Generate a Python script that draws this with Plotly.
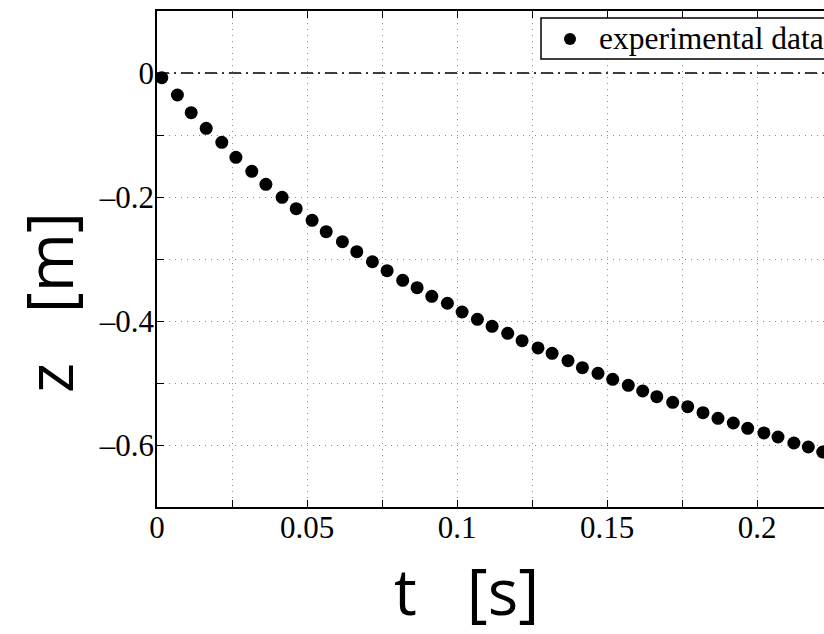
import plotly.graph_objects as go

# Free-fall position record: time [s] and vertical position [m]
t_s = [0.0016, 0.0068, 0.0114, 0.0164, 0.0216, 0.0263, 0.0316, 0.0363, 0.0417, 0.0464,
       0.0517, 0.0564, 0.0618, 0.0666, 0.0718, 0.0767, 0.0819, 0.0867, 0.0916, 0.0968,
       0.1017, 0.1068, 0.1117, 0.1169, 0.1217, 0.1270, 0.1317, 0.1370, 0.1418, 0.1470,
       0.1519, 0.1571, 0.1619, 0.1666, 0.1719, 0.1769, 0.1820, 0.1870, 0.1921, 0.1969,
       0.2023, 0.2070, 0.2123, 0.2171, 0.2219]
z_m = [-0.0076, -0.0355, -0.0640, -0.0892, -0.1118, -0.1360, -0.1586, -0.1796, -0.2005, -0.2189,
       -0.2376, -0.2560, -0.2721, -0.2882, -0.3044, -0.3189, -0.3344, -0.3463, -0.3602, -0.3714,
       -0.3855, -0.3973, -0.4086, -0.4199, -0.4317, -0.4435, -0.4521, -0.4640, -0.4753, -0.4844,
       -0.4940, -0.5037, -0.5129, -0.5221, -0.5312, -0.5382, -0.5479, -0.5569, -0.5645, -0.5731,
       -0.5806, -0.5871, -0.5968, -0.6032, -0.6113]

series_name = "experimental data"

x_ticks = [0, 0.025, 0.05, 0.075, 0.1, 0.125, 0.15, 0.175, 0.2]
x_tick_text = ["0", "", "0.05", "", "0.1", "", "0.15", "", "0.2"]
y_ticks = [0.1, 0, -0.1, -0.2, -0.3, -0.4, -0.5, -0.6, -0.7]
y_tick_text = ["", "0", "", "–0.2", "", "–0.4", "", "–0.6", ""]

W, H = 824, 634
L, R, T, B = 157, 0, 11, 127
pw, ph = W - L - R, H - T - B

def px_to_paper(px, py):
    return (px - L) / pw, (H - B - py) / ph

fig = go.Figure()
fig.add_trace(go.Scatter(
    x=t_s, y=z_m, mode="markers", name=series_name, showlegend=False,
    marker=dict(color="black", size=13, line=dict(width=0)),
))

# reference level z = 0
fig.add_shape(type="line", xref="paper", yref="y", x0=0, x1=1, y0=0, y1=0,
              line=dict(color="black", width=1.5, dash="12px,5px,2px,5px"), layer="above")

serif = "Liberation Serif"
sans = "Open Sans"
axis_common = dict(
    showgrid=True, gridcolor="rgb(140,140,140)", griddash="1px,5px", gridwidth=1,
    zeroline=False, showline=True, linecolor="black", linewidth=1.5,
    ticks="inside", ticklen=7, tickcolor="black", tickwidth=1,
    tickfont=dict(family=serif, size=31, color="black"),
    tickmode="array",
)

fig.update_xaxes(range=[0, pw / 3000.0], tickvals=x_ticks, ticktext=x_tick_text,
                 mirror="ticks", ticklabelstandoff=-8, **axis_common)
fig.update_yaxes(range=[-0.7, 0.1], tickvals=y_ticks, ticktext=y_tick_text,
                 mirror=False, ticklabelstandoff=-5, **axis_common)

# legend box (framed key in the upper right corner)
bx0, by0 = px_to_paper(541, 18)
bx1, by1 = px_to_paper(870, 59)
fig.add_shape(type="rect", xref="paper", yref="paper", x0=bx0, x1=bx1, y0=by1, y1=by0,
              line=dict(color="black", width=1.5), fillcolor="white", layer="above")
mx, my = px_to_paper(570, 39)
fig.add_shape(type="circle", xref="paper", yref="paper", xsizemode="pixel", ysizemode="pixel",
              xanchor=mx, yanchor=my, x0=-6, x1=6, y0=-6, y1=6,
              line=dict(width=0), fillcolor="black", layer="above")
tx, ty = px_to_paper(597, 39)
fig.add_annotation(text=series_name, xref="paper", yref="paper", x=tx, y=ty,
                   showarrow=False, xanchor="left", yanchor="middle",
                   font=dict(family=serif, size=31.5, color="black"))

ax_x, ax_y = px_to_paper(466, 590)
ay_x, ay_y = px_to_paper(49, 303)

fig.add_annotation(text="t\u00a0\u00a0\u00a0[s]", xref="paper", yref="paper", x=ax_x, y=ax_y,
                   showarrow=False, font=dict(family=sans, size=64, color="black"),
                   xanchor="center", yanchor="middle")
fig.add_annotation(text="z\u00a0\u00a0\u00a0[m]", xref="paper", yref="paper", x=ay_x, y=ay_y,
                   showarrow=False, font=dict(family=sans, size=64, color="black"),
                   textangle=-90, xanchor="center", yanchor="middle")

fig.update_layout(
    width=W, height=H,
    margin=dict(l=L, r=R, t=T, b=B, pad=0),
    paper_bgcolor="white", plot_bgcolor="white",
    showlegend=False,
)

fig.write_html("out.html")
